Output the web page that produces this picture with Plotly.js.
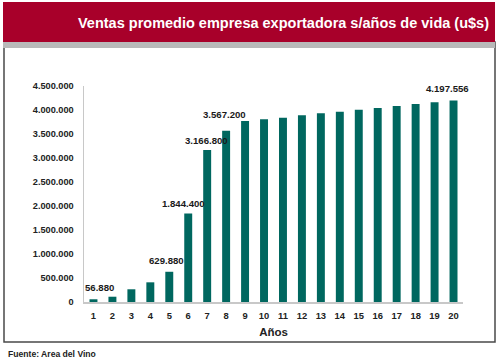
<!DOCTYPE html>
<html>
<head>
<meta charset="utf-8">
<script src="https://cdn.plot.ly/plotly-3.0.1.min.js"></script>
<style>
html,body{margin:0;padding:0;background:#fff;}
#chart{width:500px;height:363px;}
</style>
</head>
<body>
<div id="chart"></div>
<script>
// ---- data ----
const years = ['1','2','3','4','5','6','7','8','9','10','11','12','13','14','15','16','17','18','19','20'];
const ventas = [56880, 110000, 265000, 410000, 629880, 1844400, 3166800, 3567200, 3770000, 3806000,
                3840000, 3890000, 3930000, 3965000, 4006000, 4040000, 4083000, 4125000, 4160000, 4197556];
const labeledYears = ['1','5','6','7','8','20'];
const yTicks = [0, 500000, 1000000, 1500000, 2000000, 2500000, 3000000, 3500000, 4000000, 4500000];
const titleText = 'Ventas promedio empresa exportadora s/años de vida (u$s)';
const xTitle = 'Años';
const sourceText = 'Fuente: Area del Vino';

// ---- layout helpers (pixel -> paper) ----
const W = 500, H = 363;
const M = {l: 84, r: 37, t: 86, b: 61};
const pw = W - M.l - M.r, ph = H - M.t - M.b;
const px = x => (x - M.l) / pw;
const py = y => (H - M.b - y) / ph;

function fmt(v){ return String(v).replace(/\B(?=(\d{3})+(?!\d))/g, '.'); }

// label offsets (style only)
const labelShift = {'1':[6,12], '5':[-3,11], '6':[-5,10], '7':[-1,9], '8':[-2,16], '20':[-6,12]};

const labelAnn = labeledYears.map(y => {
  const i = years.indexOf(y);
  return {
    x: i, y: ventas[i], xref: 'x', yref: 'y',
    text: fmt(ventas[i]), showarrow: false,
    xanchor: 'center', yanchor: 'middle',
    xshift: labelShift[y][0], yshift: labelShift[y][1],
    font: {family: 'Liberation Sans, Arial, sans-serif', size: 9.6, color: '#1a1a1a', weight: 'bold'}
  };
});

const trace = {
  type: 'bar', x: years, y: ventas,
  marker: {color: '#00675F'},
  hoverinfo: 'skip'
};

const layout = {
  width: W, height: H,
  margin: M,
  paper_bgcolor: 'rgba(0,0,0,0)', plot_bgcolor: 'rgba(0,0,0,0)',
  separators: ',.',
  bargap: 0.58,
  showlegend: false,
  font: {family: 'Liberation Sans, Arial, sans-serif', color: '#222'},
  xaxis: {
    type: 'category',
    range: [-0.5, years.length - 0.5],
    showline: true, linecolor: '#C8C8C8', linewidth: 1.5,
    showgrid: false, zeroline: false, ticks: '',
    ticklabelstandoff: 4,
    tickfont: {size: 9.4, color: '#222', weight: 'bold'},
    title: {text: xTitle, font: {size: 11.5, color: '#222', weight: 'bold'}, standoff: 8}
  },
  yaxis: {
    range: [0, 4500000],
    tickvals: yTicks, ticktext: yTicks.map(fmt),
    showline: true, linecolor: '#C8C8C8', linewidth: 1.5,
    showgrid: false, zeroline: false, ticks: '',
    ticklabelstandoff: 7,
    tickfont: {size: 9.2, color: '#222', weight: 'bold'}
  },
  shapes: [
    // outer frame
    {type: 'rect', xref: 'paper', yref: 'paper', x0: px(4), x1: px(495), y0: py(342), y1: py(42),
     line: {color: '#4a4a4a', width: 1.5}, fillcolor: 'rgba(0,0,0,0)', layer: 'below'},
    // gray strip
    {type: 'rect', xref: 'paper', yref: 'paper', x0: px(3), x1: px(495), y0: py(48), y1: py(41),
     line: {width: 0}, fillcolor: '#B9B9B9', layer: 'below'},
    // red banner
    {type: 'rect', xref: 'paper', yref: 'paper', x0: px(3), x1: px(495), y0: py(42), y1: py(2),
     line: {width: 0}, fillcolor: '#A8002A', layer: 'below'}
  ],
  annotations: [
    {xref: 'paper', yref: 'paper', x: px(491), y: py(23), xanchor: 'right', yanchor: 'middle',
     text: titleText, showarrow: false,
     font: {family: 'Liberation Sans, Arial, sans-serif', size: 14.5, color: '#ffffff', weight: 'bold'}},
    {xref: 'paper', yref: 'paper', x: px(6), y: py(354), xanchor: 'left', yanchor: 'middle',
     text: sourceText, showarrow: false,
     font: {family: 'Liberation Sans, Arial, sans-serif', size: 8.6, color: '#222', weight: 'bold'}}
  ].concat(labelAnn)
};

Plotly.newPlot('chart', [trace], layout, {displayModeBar: false, staticPlot: true});
</script>
</body>
</html>
